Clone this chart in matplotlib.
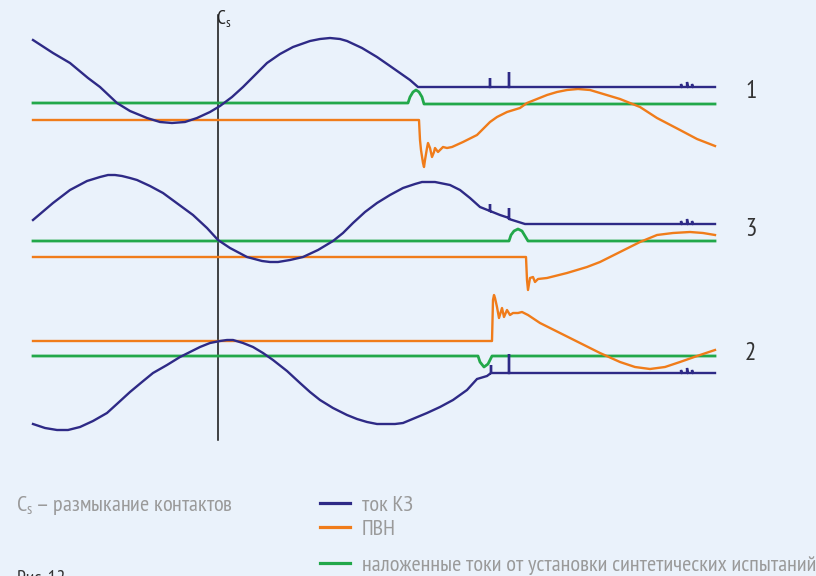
import matplotlib.pyplot as plt
from matplotlib import font_manager

# узкий прямой шрифт с кириллицей, если найдётся
cands = []
for f in font_manager.fontManager.ttflist:
    st = str(f.stretch).lower()
    nm = f.name.lower()
    if f.style != 'normal' or f.weight not in (400, 'normal', 'regular'):
        continue
    if not ('narrow' in nm or 'condensed' in nm or 'condensed' in st):
        continue
    if 'semi' in st:
        continue
    try:
        cmap = font_manager.get_font(f.fname).get_charmap()
    except Exception:
        continue
    if all(ord(ch) in cmap for ch in 'кПВЗжы–'):
        cands.append(f)
cands.sort(key=lambda f: 0 if 'narrow' in f.name.lower() else 1)

if cands:
    FP = font_manager.FontProperties(fname=cands[0].fname)
    K = 1.0
else:
    FP = font_manager.FontProperties(family=['Liberation Sans', 'DejaVu Sans'])
    K = 0.65

NAVY = '#2e2a86'
ORANGE = '#f07c1a'
GREEN = '#22a84a'
BG = '#eaf2fb'

# точки кривых (x - время, y - вниз)
tok_1 = [(33, 40), (53, 53), (70, 63), (88, 78), (100, 87), (117, 103), (130, 111), (147, 118),
         (160, 122), (172, 123), (185, 122), (197, 118), (210, 112), (220, 106), (232, 97),
         (243, 87), (255, 75), (267, 63), (280, 54), (293, 47), (310, 41), (320, 39), (330, 38),
         (340, 39), (347, 41), (362, 48), (377, 57), (390, 66), (400, 73), (410, 80), (418, 87),
         (490, 87), (490, 78), (490, 87), (509, 87), (509, 72), (509, 87), (681, 87), (681, 84),
         (682, 87), (687, 87), (687, 82), (688, 87), (692, 87), (692, 84), (693, 87), (715, 87)]
tok_3 = [(33, 220), (53, 203), (70, 190), (87, 181), (100, 177), (108, 175), (115, 175), (122, 176),
         (130, 178), (137, 180), (150, 186), (163, 193), (178, 204), (193, 215), (207, 228),
         (218, 240), (230, 248), (247, 257), (262, 261), (270, 262), (278, 262), (290, 260),
         (303, 257), (318, 250), (333, 241), (343, 233), (353, 223), (365, 212), (377, 203),
         (390, 195), (403, 188), (415, 184), (422, 182), (428, 182), (435, 182), (440, 183),
         (450, 185), (460, 190), (470, 198), (480, 207), (490, 211), (490, 204), (490, 211),
         (500, 215), (509, 218), (509, 208), (509, 219), (525, 224), (681, 224), (681, 221),
         (682, 224), (687, 224), (687, 219), (688, 224), (692, 224), (692, 221), (693, 224),
         (715, 224)]
tok_2 = [(33, 424), (45, 428), (57, 430), (68, 430), (80, 427), (93, 421), (107, 413), (118, 403),
         (130, 392), (142, 382), (153, 373), (167, 365), (180, 357), (190, 352), (200, 347),
         (210, 343), (220, 341), (227, 340), (233, 340), (243, 343), (253, 347), (263, 353),
         (273, 360), (287, 371), (300, 383), (310, 392), (320, 400), (333, 408), (347, 415),
         (357, 419), (367, 422), (377, 424), (387, 424), (395, 424), (403, 423), (415, 418),
         (427, 413), (440, 407), (453, 400), (467, 390), (477, 379), (487, 376), (491, 373),
         (491, 365), (491, 373), (509, 373), (509, 354), (509, 373), (681, 373), (681, 370),
         (682, 373), (687, 373), (687, 368), (688, 373), (692, 373), (692, 370), (693, 373),
         (715, 373)]

sint_1 = [(33, 103), (408, 103), (410, 97), (413, 92), (416, 90), (419, 92), (422, 97), (424, 104),
          (715, 104)]
sint_3 = [(33, 241), (509, 241), (511, 235), (514, 231), (518, 229), (522, 231), (525, 236),
          (528, 241), (715, 241)]
sint_2 = [(33, 356), (478, 356), (480, 362), (484, 367), (488, 364), (492, 356), (715, 356)]

pvn_1 = [(33, 120), (419, 120), (420, 140), (421, 150), (423, 163), (424, 167), (425, 160),
         (427, 148), (428, 143), (430, 148), (432, 157), (434, 152), (435, 148), (438, 152),
         (441, 149), (443, 147), (447, 148), (452, 147), (463, 142), (477, 135), (485, 127),
         (490, 122), (497, 117), (507, 112), (520, 108), (527, 103), (537, 99), (547, 95),
         (557, 92), (567, 90), (578, 89), (590, 90), (600, 93), (620, 99), (640, 107),
         (657, 118), (680, 130), (697, 139), (715, 146)]
pvn_3 = [(33, 257), (526, 257), (527, 280), (528, 290), (530, 278), (533, 277), (535, 282),
         (538, 279), (547, 278), (567, 273), (587, 267), (600, 262), (620, 252), (640, 242),
         (657, 235), (673, 233), (690, 232), (703, 233), (715, 235)]
pvn_2 = [(33, 341), (492, 341), (493, 300), (494, 295), (495, 298), (497, 307), (499, 318),
         (502, 308), (504, 317), (507, 310), (510, 315), (513, 313), (518, 313), (522, 312),
         (528, 315), (540, 323), (560, 333), (580, 343), (600, 353), (620, 362), (635, 367),
         (650, 369), (665, 367), (680, 362), (700, 355), (715, 350)]

case_labels = ['1', '3', '2']
case_y = [91, 230, 353]
legend_labels = ['ток КЗ', 'ПВН', 'наложенные токи от установки синтетических испытаний']

fig = plt.figure(figsize=(8.16, 5.76), dpi=100)
fig.patch.set_facecolor(BG)
ax = fig.add_axes([0, 0, 1, 1])
ax.set_facecolor(BG)
ax.set_xlim(0, 816)
ax.set_ylim(576, 0)
ax.axis('off')

def txt(x, y, s, size, color, **kw):
    ax.text(x, y, s, fontproperties=FP, fontsize=size, color=color, **kw)

# момент размыкания
ax.plot([218, 218], [15, 440], color='#111111', lw=1.1)
txt(216, 25, 'C$_\\mathregular{s}$', 14 * K, '#222222', va='baseline')

for pts in (sint_1, sint_3, sint_2):
    x, y = zip(*pts)
    ax.plot(x, y, color=GREEN, lw=2.0, solid_joinstyle='round')
for pts in (pvn_1, pvn_3, pvn_2):
    x, y = zip(*pts)
    ax.plot(x, y, color=ORANGE, lw=1.7, solid_joinstyle='round')
for pts in (tok_1, tok_3, tok_2):
    x, y = zip(*pts)
    ax.plot(x, y, color=NAVY, lw=1.7, solid_joinstyle='miter')

for lab, yy in zip(case_labels, case_y):
    txt(745, yy, lab, 18, '#333333', va='center', ha='left')

# подписи внизу
txt(16, 511, 'C$_\\mathregular{s}$ – размыкание контактов', 16 * K, '#9a9a9a', va='baseline')

leg_colors = [NAVY, ORANGE, GREEN]
leg_y = [503, 527, 563]
for lab, c, yy in zip(legend_labels, leg_colors, leg_y):
    ax.plot([320, 350], [yy, yy], color=c, lw=2.3)
    txt(362, yy + 8, lab, 16 * K, '#9a9a9a', va='baseline')

txt(17, 584, 'Рис. 12', 14 * K, '#333333', va='baseline')

fig.savefig('out.png', dpi=100, facecolor=BG)
